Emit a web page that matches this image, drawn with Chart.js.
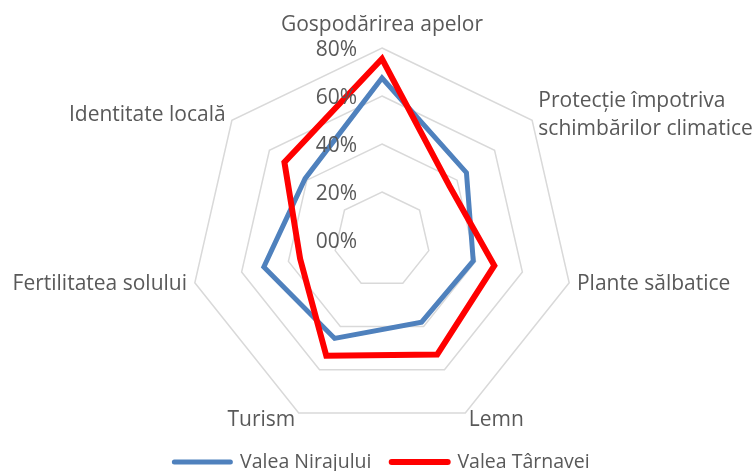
<!DOCTYPE html>
<html>
<head>
<meta charset="utf-8">
<script src="https://cdn.jsdelivr.net/npm/chart.js@4"></script>
<style>
  body { margin: 0; background: #fff; }
</style>
</head>
<body>
<canvas id="chart" width="754" height="471"></canvas>
<script>
const categories = [
  'Gospodărirea apelor',
  ['Protecție împotriva', 'schimbărilor climatice'],
  'Plante sălbatice',
  'Lemn',
  'Turism',
  'Fertilitatea solului',
  'Identitate locală'
];
const nirajului = [67.5, 45, 39, 38, 45.5, 50.5, 41];
const tarnavei = [75.5, 36, 48, 53, 53.5, 35, 52];
const tickValues = [0, 20, 40, 60, 80];
const tickLabels = ['00%', '20%', '40%', '60%', '80%'];

const FONT = '"Open Sans", sans-serif';
const TEXT = '#595959';

// Excel puts the % labels left of the vertical axis and centres category labels on the vertex
const radarText = {
  id: 'radarText',
  afterDraw(chart) {
    const r = chart.scales.r;
    const ctx = chart.ctx;
    ctx.save();
    ctx.fillStyle = TEXT;
    ctx.font = '21px ' + FONT;
    ctx.textAlign = 'right';
    ctx.textBaseline = 'middle';
    tickValues.forEach((v, i) => {
      ctx.fillText(tickLabels[i], r.xCenter - 25, r.yCenter - r.getDistanceFromCenterForValue(v) + 2);
    });
    chart.data.labels.forEach((label, i) => {
      const p = r.getPointPosition(i, r.drawingArea + 8);
      const lines = [].concat(label);
      const lh = 28;
      let y = p.y - (lines.length - 1) * lh / 2;
      if (Math.abs(p.x - r.xCenter) < 1) {
        ctx.textAlign = 'center';
        y -= 15;
      } else {
        ctx.textAlign = p.x > r.xCenter ? 'left' : 'right';
      }
      lines.forEach((t, j) => ctx.fillText(t, p.x, y + j * lh));
    });
    ctx.restore();
  }
};

new Chart(document.getElementById('chart'), {
  type: 'radar',
  data: {
    labels: categories,
    datasets: [{
      label: 'Valea Nirajului',
      data: nirajului,
      borderColor: '#4f81bd',
      backgroundColor: '#4f81bd',
      borderWidth: 5,
      pointRadius: 0,
      fill: false,
      order: 1
    }, {
      label: 'Valea Târnavei',
      data: tarnavei,
      borderColor: '#ff0000',
      backgroundColor: '#ff0000',
      borderWidth: 6,
      pointRadius: 0,
      fill: false,
      order: 0
    }]
  },
  options: {
    responsive: false,
    animation: false,
    layout: { padding: { top: 48, left: 10, right: 0, bottom: -10.75 } },
    scales: {
      r: {
        min: 0,
        max: 80,
        ticks: { stepSize: 20, display: false },
        grid: { color: '#d9d9d9', lineWidth: 1.5 },
        angleLines: { display: false },
        pointLabels: { display: false }
      }
    },
    plugins: {
      legend: {
        position: 'bottom',
        labels: {
          usePointStyle: true,
          pointStyle: 'line',
          pointStyleWidth: 56,
          padding: 20.25,
          color: TEXT,
          font: { family: FONT, size: 19.5 },
          sort: (a, b) => a.datasetIndex - b.datasetIndex,
          generateLabels: chart => Chart.defaults.plugins.legend.labels.generateLabels(chart)
            .map(l => Object.assign(l, { lineCap: 'round' }))
        }
      },
      tooltip: { enabled: false }
    }
  },
  plugins: [radarText]
});
</script>
</body>
</html>
